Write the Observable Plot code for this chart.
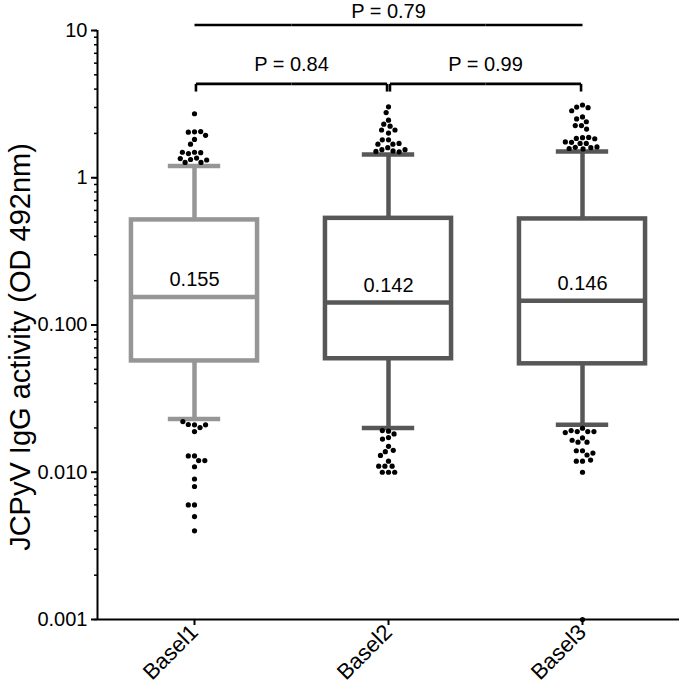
<!DOCTYPE html>
<html>
<head>
<meta charset="utf-8">
<script src="https://cdn.jsdelivr.net/npm/d3@7"></script>
<script src="https://cdn.jsdelivr.net/npm/@observablehq/plot@0.6"></script>
<style>
  html, body { margin: 0; padding: 0; background: white; }
  svg { font-family: "Liberation Sans", Arial, sans-serif; }
</style>
</head>
<body>
<div id="chart"></div>
<script>
// ---- data ----
const groups = ["Basel1", "Basel2", "Basel3"];
const medians = [0.155, 0.142, 0.146];
const medianLabels = ["0.155", "0.142", "0.146"];
const q1 = [0.057, 0.059, 0.0545];
const q3 = [0.517, 0.53, 0.525];
const whiskerLow = [0.023, 0.020, 0.021];
const whiskerHigh = [1.20, 1.44, 1.51];
const boxColors = ["#969696", "#575757", "#575757"];

const basel1Out = [2.72, 2.05, 2.04, 2.06, 1.94, 1.82, 1.69, 1.49, 1.46, 1.48, 1.49, 1.36, 1.33, 1.27, 1.27, 1.32, 1.35,
  0.021, 0.0211, 0.0201, 0.021, 0.0221, 0.0189, 0.0129, 0.0129, 0.0120, 0.0120, 0.0109, 0.0090, 0.0080, 0.0060, 0.0060, 0.0050, 0.0040];
const basel2Out = [3.03, 2.77, 2.46, 2.31, 2.24, 2.11, 2.11, 2.01, 1.81, 1.81, 1.69, 1.69, 1.71, 1.60, 1.55, 1.52, 1.50, 1.51, 1.55,
  0.0190, 0.0192, 0.0182, 0.0172, 0.0168, 0.0150, 0.0138, 0.0141, 0.0130, 0.0119, 0.0110, 0.0110, 0.0110, 0.0100, 0.0100, 0.0100];
const basel3Out = [3.12, 3.02, 2.99, 2.85, 2.59, 2.51, 2.40, 2.26, 2.26, 2.14, 1.87, 1.85, 1.88, 1.84, 1.74, 1.71, 1.71, 1.75, 1.61, 1.57, 1.60, 1.58, 1.62,
  0.0199, 0.0189, 0.0189, 0.0189, 0.0192, 0.0186, 0.0171, 0.0160, 0.0160, 0.0165, 0.0140, 0.0140, 0.0131, 0.0135, 0.0119, 0.0119, 0.0121, 0.0100, 0.001];

const yTicks = [0.001, 0.01, 0.1, 1, 10];
const yTickLabels = ["0.001", "0.010", "0.100", "1", "10"];
const yLabel = "JCPyV IgG activity (OD 492nm)";

const compFrom = ["Basel1", "Basel2", "Basel1"];
const compTo = ["Basel2", "Basel3", "Basel3"];
const compText = ["P = 0.84", "P = 0.99", "P = 0.79"];
const compLevel = [4.34, 4.34, 10.9];
const compTip = [3.85, 3.85, null];

// ---- tables built from the arrays ----
const boxes = groups.map((g, i) => ({
  group: g, median: medians[i], label: medianLabels[i], q1: q1[i], q3: q3[i],
  lo: whiskerLow[i], hi: whiskerHigh[i]
}));
const outliers = [
  ...basel1Out.map(v => ({group: "Basel1", value: v})),
  ...basel2Out.map(v => ({group: "Basel2", value: v})),
  ...basel3Out.map(v => ({group: "Basel3", value: v}))
];
const gap = 0.015;
const segs = [], texts = [];
compFrom.forEach((f, k) => {
  const i0 = groups.indexOf(f), i1 = groups.indexOf(compTo[k]);
  const tip = compTip[k] != null;
  for (let i = i0; i <= i1; ++i) {
    segs.push({fx: groups[i], x1: i === i0 ? (tip ? gap : 0) : -1, x2: i === i1 ? (tip ? -gap : 0) : 1, y1: compLevel[k], y2: compLevel[k]});
  }
  if (tip) {
    segs.push({fx: groups[i0], x1: gap, x2: gap, y1: compLevel[k], y2: compTip[k]});
    segs.push({fx: groups[i1], x1: -gap, x2: -gap, y1: compLevel[k], y2: compTip[k]});
  }
  const mid = (i0 + i1) / 2;
  texts.push({fx: groups[Math.floor(mid)], x: Number.isInteger(mid) ? 0 : 1, y: compLevel[k], text: compText[k], tip});
});

const labelMap = new Map(yTicks.map((t, i) => [t, yTickLabels[i]]));
const minorTicks = d3.scaleLog().domain([0.001, 10]).ticks();
const font = "Liberation Sans, Arial, sans-serif";

const boxHalf = 0.65, capHalf = 0.27, sw = 4.5;

const chart = Plot.plot({
  width: 680,
  height: 686,
  marginLeft: 97,
  marginRight: 1,
  marginTop: 30,
  marginBottom: 67,
  style: {fontFamily: font, fontSize: "20px", color: "black", background: "white", overflow: "visible"},
  fx: {domain: groups, padding: 0, axis: null},
  x: {domain: [-1, 1], axis: null},
  y: {type: "log", domain: [0.001, 10], axis: null},
  color: {domain: groups, range: boxColors},
  marks: [
    // axes
    Plot.axisY({ticks: minorTicks, tickSize: 3, text: null, strokeWidth: 1.5, label: null}),
    Plot.axisY({ticks: yTicks, tickSize: 6, tickPadding: 4, strokeWidth: 2, fontSize: 20, tickFormat: d => labelMap.get(d), label: null}),
    Plot.ruleX(["Basel1"], {fx: d => d, x: -1, y1: 0.001, y2: 10, stroke: "black", strokeWidth: 2}),
    Plot.ruleY([0.001], {x1: -1, x2: 1, stroke: "black", strokeWidth: 2}),
    Plot.axisFx({anchor: "bottom", tickSize: 6, tickRotate: -45, fontSize: 22, strokeWidth: 2, tickPadding: 3, label: null}),
    Plot.text(["Basel1"], {fx: d => d, text: () => yLabel, frameAnchor: "left", textAnchor: "middle", lineAnchor: "middle", rotate: -90, dx: -77, dy: 22, fontSize: 29, fill: "black"}),
    // whiskers
    Plot.ruleX(boxes, {fx: "group", x: 0, y1: "q3", y2: "hi", stroke: "group", strokeWidth: sw}),
    Plot.ruleX(boxes, {fx: "group", x: 0, y1: "q1", y2: "lo", stroke: "group", strokeWidth: sw}),
    Plot.ruleY(boxes, {fx: "group", y: "hi", x1: -capHalf, x2: capHalf, stroke: "group", strokeWidth: sw}),
    Plot.ruleY(boxes, {fx: "group", y: "lo", x1: -capHalf, x2: capHalf, stroke: "group", strokeWidth: sw}),
    // boxes
    Plot.rect(boxes, {fx: "group", x1: -boxHalf, x2: boxHalf, y1: "q1", y2: "q3", fill: "white", stroke: "group", strokeWidth: sw}),
    Plot.ruleY(boxes, {fx: "group", y: "median", x1: -boxHalf, x2: boxHalf, stroke: "group", strokeWidth: sw}),
    Plot.text(boxes, {fx: "group", x: 0, y: "median", text: "label", dy: -17, fontSize: 20, fill: "black"}),
    // outliers
    Plot.dot(outliers, Plot.dodgeX("middle", {fx: "group", y: "value", r: 2.6, padding: 0.6, fill: "black", stroke: "none"})),
    // comparison brackets
    Plot.link(segs, {fx: "fx", x1: "x1", x2: "x2", y1: "y1", y2: "y2", stroke: "black", strokeWidth: 2.6}),
    Plot.text(texts.filter(d => d.tip), {fx: "fx", x: "x", y: "y", text: "text", dy: -19, fontSize: 20, fill: "black"}),
    Plot.text(texts.filter(d => !d.tip), {fx: "fx", x: "x", y: "y", text: "text", dy: -13, fontSize: 20, fill: "black"})
  ]
});
document.getElementById("chart").appendChild(chart);
</script>
</body>
</html>
